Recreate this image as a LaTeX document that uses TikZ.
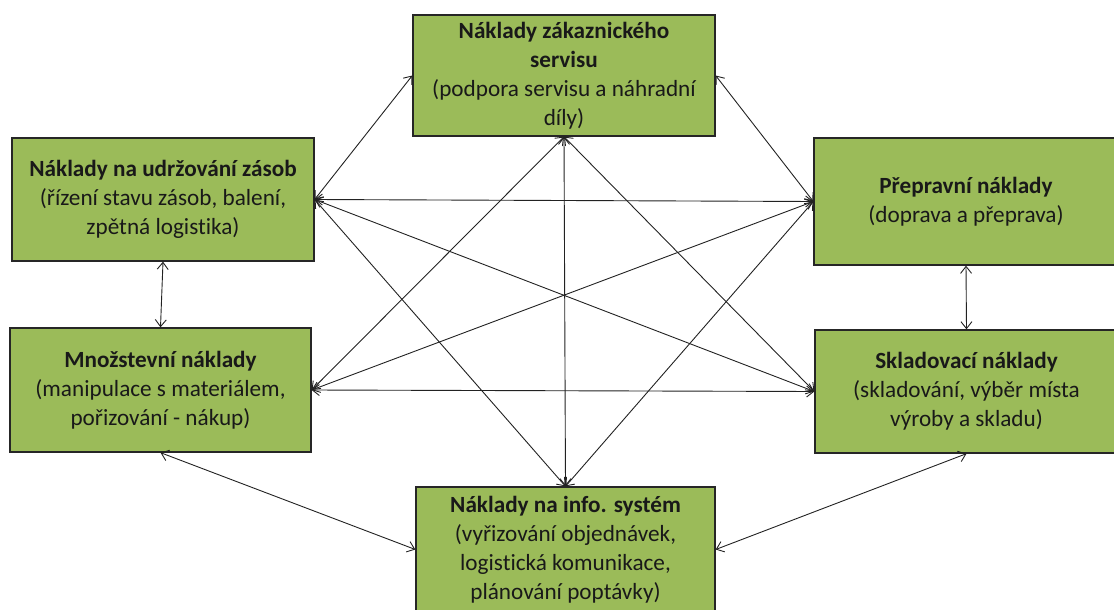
\documentclass[tikz,border=0pt]{standalone}
\usepackage{fontspec}
\setmainfont{Carlito}[Ligatures=NoCommon]
\usetikzlibrary{arrows.meta}
\definecolor{boxgreen}{HTML}{9BBB59}
\definecolor{boxline}{HTML}{262626}
\definecolor{conline}{HTML}{222222}
\begin{document}
\begin{tikzpicture}[x=1pt,y=-1pt,
  costbox/.style={draw=boxline, line width=1.3pt, fill=boxgreen, align=center,
    inner sep=0pt, font=\fontsize{23.2}{29}\selectfont, text=black!90},
  link/.style={draw=conline, line width=0.9pt,
    {Straight Barb[length=7pt,width=11pt,line width=0.9pt]}-{Straight Barb[length=7pt,width=11pt,line width=0.9pt]}}]
\useasboundingbox (0,0) rectangle (1114,610);
\node[costbox, minimum width=302pt, minimum height=121pt] (T) at (564,75.5)
  {\textbf{Náklady zákaznického}\\\textbf{servisu}\\(podpora servisu a náhradní\\díly)};
\node[costbox, minimum width=302pt, minimum height=123pt] (L1) at (163,199.5)
  {\textbf{Náklady na udržování zásob}\\(řízení stavu zásob, balení,\\zpětná logistika)};
\node[costbox, minimum width=301pt, minimum height=124pt] (L2) at (160.5,390)
  {\textbf{Množstevní náklady}\\(manipulace s materiálem,\\pořizování - nákup)};
\node[costbox, minimum width=304pt, minimum height=127pt] (R1) at (966,201.5)
  {\textbf{Přepravní náklady}\\(doprava a přeprava)};
\node[costbox, minimum width=303pt, minimum height=123pt] (R2) at (966.5,391.5)
  {\textbf{Skladovací náklady}\\(skladování, výběr místa\\výroby a skladu)};
\node[costbox, minimum width=299pt, minimum height=125pt] (B) at (565.5,549.5)
  {\textbf{Náklady na info. systém}\\(vyřizování objednávek,\\logistická komunikace,\\plánování poptávky)};
% connectors
\draw[link] (T.west) -- (L1.east);
\draw[link] (T.east) -- (R1.west);
\draw[link] (T.south) -- (B.north);
\draw[link] (T.south) -- (L2.east);
\draw[link] (T.south) -- (R2.west);
\draw[link] (L1.east) -- (R1.west);
\draw[link] (L1.east) -- (R2.west);
\draw[link] (L1.east) -- (B.north);
\draw[link] (L2.east) -- (R1.west);
\draw[link] (L2.east) -- (R2.west);
\draw[link] (R1.west) -- (B.north);
\draw[link] (L1.south) -- (L2.north);
\draw[link] (R1.south) -- (R2.north);
\draw[link] (L2.south) -- (B.west);
\draw[link] (R2.south) -- (B.east);
\end{tikzpicture}
\end{document}
